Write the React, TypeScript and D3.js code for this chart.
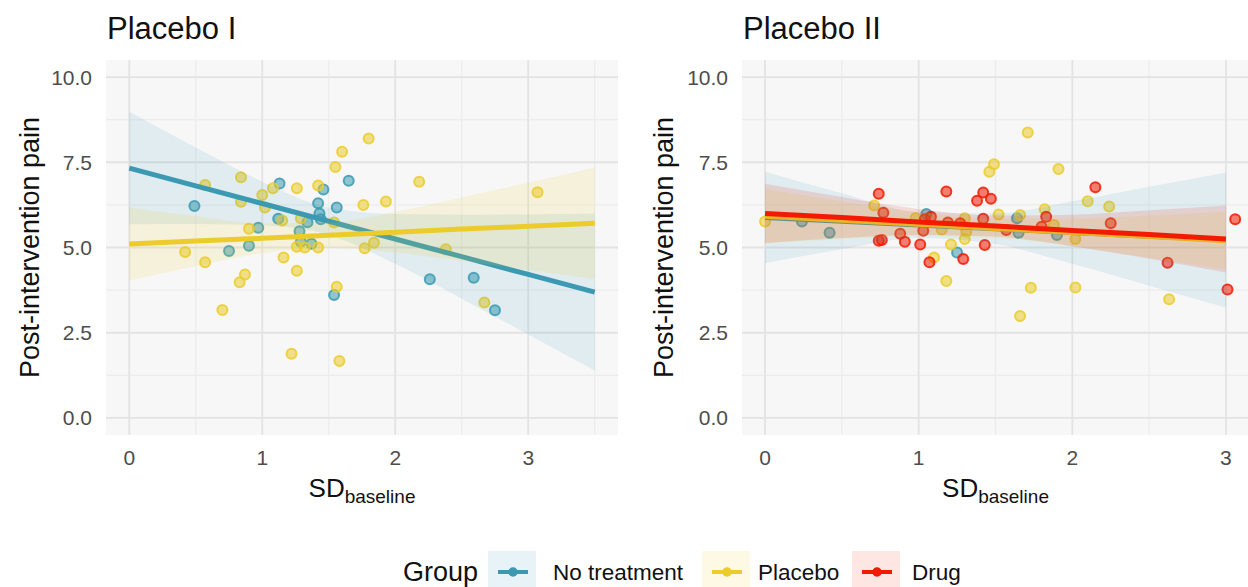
import React from "react";
import * as d3 from "d3";

// groups + palette (Zissou-like)
const groups = ["No treatment", "Placebo", "Drug"];
const groupColors = ["#3B9AB2", "#EBCC2A", "#F21A00"];
const bandOpacity = [0.12, 0.14, 0.13];
const keyOpacity = [0.12, 0.12, 0.11];

const xTicks = [0, 1, 2, 3];
const yTicks = [0, 2.5, 5, 7.5, 10];
const yTickLabels = ["0.0", "2.5", "5.0", "7.5", "10.0"];

// Placebo I - raw points [SD_baseline, post pain]
const p1NoTreatment: [number, number][] = [
  [0.49, 6.22], [0.75, 4.9], [0.9, 5.05], [0.97, 5.58], [1.13, 6.88],
  [1.12, 5.84], [1.28, 5.48], [1.29, 5.17], [1.34, 5.74], [1.37, 5.11],
  [1.42, 6.3], [1.43, 6.0], [1.44, 5.83], [1.46, 6.7], [1.56, 6.17],
  [1.65, 6.96], [1.54, 3.61], [2.26, 4.07], [2.59, 4.11], [2.75, 3.16],
];
const p1Placebo: [number, number][] = [
  [0.42, 4.87], [0.57, 4.57], [0.57, 6.83], [0.7, 3.17], [0.84, 7.06],
  [0.84, 6.34], [0.83, 3.98], [0.87, 4.21], [0.9, 5.55], [1.0, 6.54],
  [1.02, 6.17], [1.08, 6.74], [1.15, 5.79], [1.16, 4.71], [1.22, 1.88],
  [1.26, 6.74], [1.26, 4.32], [1.26, 5.02], [1.32, 5.0], [1.29, 5.86],
  [1.42, 6.82], [1.42, 5.0], [1.55, 7.36], [1.56, 3.85], [1.58, 1.67],
  [1.6, 7.81], [1.76, 6.25], [1.77, 4.98], [1.8, 8.2], [1.84, 5.14],
  [1.93, 6.35], [2.18, 6.93], [2.38, 4.95], [2.67, 3.39], [3.07, 6.62],
  [1.54, 5.73],
];

// Placebo II - raw points
const p2NoTreatment: [number, number][] = [
  [0.24, 5.76], [0.42, 5.43], [1.05, 5.98], [1.25, 4.85], [1.65, 5.43],
  [1.64, 5.86], [1.9, 5.37],
];
const p2Placebo: [number, number][] = [
  [0.0, 5.76], [0.71, 6.23], [1.1, 4.71], [1.18, 4.02], [1.21, 5.09],
  [1.3, 5.25], [1.31, 5.46], [1.3, 5.86], [1.15, 5.53], [1.46, 7.22],
  [1.49, 7.44], [1.52, 5.97], [1.66, 5.95], [1.71, 8.37], [1.73, 3.82],
  [1.66, 2.99], [1.82, 6.12], [1.91, 7.3], [2.02, 5.25], [2.02, 3.83],
  [2.1, 6.36], [2.24, 6.2], [2.63, 3.48], [1.88, 5.66], [0.98, 5.86],
];
const p2Drug: [number, number][] = [
  [0.74, 6.58], [0.77, 6.02], [0.74, 5.2], [0.76, 5.22], [0.88, 5.4],
  [0.91, 5.17], [1.01, 5.09], [1.07, 4.57], [1.03, 5.49], [1.04, 5.83],
  [1.08, 5.9], [1.18, 6.64], [1.19, 5.73], [1.29, 4.66], [1.27, 5.71],
  [1.38, 6.37], [1.42, 6.61], [1.47, 6.43], [1.42, 5.84], [1.43, 5.07],
  [1.57, 5.51], [1.83, 5.9], [1.8, 5.61], [2.15, 6.77], [2.25, 5.71],
  [2.62, 4.55], [3.01, 3.77], [3.06, 5.83],
];

// fitted lm lines with 95% bands
const p1FitX = [0, 0.5, 1, 1.5, 2, 2.5, 3, 3.5];
const p1NoTreatmentFit = [7.33, 6.81, 6.29, 5.77, 5.25, 4.73, 4.21, 3.69];
const p1NoTreatmentLo = [5.68, 5.69, 5.65, 5.37, 4.52, 3.5, 2.45, 1.39];
const p1NoTreatmentHi = [8.98, 7.93, 6.93, 6.17, 5.98, 5.96, 5.97, 5.99];
const p1PlaceboFit = [5.1, 5.19, 5.27, 5.36, 5.45, 5.54, 5.62, 5.71];
const p1PlaceboLo = [4.03, 4.46, 4.83, 4.99, 4.85, 4.61, 4.34, 4.07];
const p1PlaceboHi = [6.17, 5.92, 5.71, 5.73, 6.05, 6.47, 6.9, 7.35];

const p2FitX = [0, 0.5, 1, 1.5, 2, 2.5, 3];
const p2NoTreatmentFit = [5.88, 5.77, 5.66, 5.55, 5.44, 5.33, 5.22];
const p2NoTreatmentLo = [4.54, 4.95, 5.28, 5.1, 4.52, 3.88, 3.24];
const p2NoTreatmentHi = [7.22, 6.59, 6.04, 6.0, 6.36, 6.78, 7.2];
const p2PlaceboFit = [5.92, 5.8, 5.68, 5.56, 5.44, 5.32, 5.2];
const p2PlaceboLo = [5.12, 5.25, 5.33, 5.28, 5.04, 4.7, 4.35];
const p2PlaceboHi = [6.72, 6.35, 6.03, 5.84, 5.84, 5.94, 6.05];
const p2DrugFit = [6.0, 5.88, 5.75, 5.63, 5.5, 5.38, 5.25];
const p2DrugLo = [5.13, 5.28, 5.37, 5.32, 5.04, 4.67, 4.27];
const p2DrugHi = [6.87, 6.48, 6.13, 5.94, 5.96, 6.09, 6.23];

const W = 1248;
const H = 587;
const FONT = "'Liberation Sans', Arial, Helvetica, sans-serif";
const panelTop = 60;
const panelBottom = 435;

type Fit = { g: number; fit: number[]; lo: number[]; hi: number[] };

const Panel = ({ title, x0, x1, xDomain, minorX, points, fitX, fits, yTitleX, tickRight }) => {
  const x = d3.scaleLinear().domain(xDomain).range([x0, x1]);
  const y = d3.scaleLinear().domain([-0.5, 10.5]).range([panelBottom, panelTop]);
  const area = d3
    .area<number>()
    .x((_, i) => x(fitX[i]))
    .curve(d3.curveMonotoneX);
  const line = d3
    .line<number>()
    .x((_, i) => x(fitX[i]))
    .y((d) => y(d));
  const minorY = [1.25, 3.75, 6.25, 8.75];
  const cx = (x0 + x1) / 2;
  return (
    <g>
      <text x={x0 + 1} y={39} fontSize={31} fill="#111" fontFamily={FONT}>
        {title}
      </text>
      <rect x={x0} y={panelTop} width={x1 - x0} height={panelBottom - panelTop} fill="#f7f7f7" />
      {minorX.map((v) => (
        <line key={"mx" + v} x1={x(v)} x2={x(v)} y1={panelTop} y2={panelBottom} stroke="#ececec" strokeWidth={1.2} />
      ))}
      {minorY.map((v) => (
        <line key={"my" + v} x1={x0} x2={x1} y1={y(v)} y2={y(v)} stroke="#ececec" strokeWidth={1.2} />
      ))}
      {xTicks.map((v) => (
        <line key={"gx" + v} x1={x(v)} x2={x(v)} y1={panelTop} y2={panelBottom} stroke="#e3e3e3" strokeWidth={1.8} />
      ))}
      {yTicks.map((v) => (
        <line key={"gy" + v} x1={x0} x2={x1} y1={y(v)} y2={y(v)} stroke="#e3e3e3" strokeWidth={1.8} />
      ))}
      {points.map((pts, gi) =>
        pts.map((p, i) => (
          <circle
            key={gi + "-" + i}
            cx={x(p[0])}
            cy={y(p[1])}
            r={5}
            fill={groupColors[gi]}
            fillOpacity={0.55}
            stroke={groupColors[gi]}
            strokeOpacity={0.85}
            strokeWidth={2}
          />
        ))
      )}
      {fits.map((f: Fit) => (
        <g key={"f" + f.g}>
          <path
            d={area.y0((_, i) => y(f.lo[i])).y1((_, i) => y(f.hi[i]))(f.fit) || ""}
            fill={groupColors[f.g]}
            fillOpacity={bandOpacity[f.g]}
          />
          <path d={line(f.fit) || ""} fill="none" stroke={groupColors[f.g]} strokeWidth={5} />
        </g>
      ))}
      {xTicks.map((v) => (
        <text key={"tx" + v} x={x(v)} y={465} textAnchor="middle" fontSize={21} fill="#4d4d4d" fontFamily={FONT}>
          {v}
        </text>
      ))}
      {yTicks.map((v, i) => (
        <text key={"ty" + v} x={tickRight} y={y(v) + 7.5} textAnchor="end" fontSize={21} fill="#4d4d4d" fontFamily={FONT}>
          {yTickLabels[i]}
        </text>
      ))}
      <text x={cx} y={497} textAnchor="middle" fontSize={26} fill="#111" fontFamily={FONT}>
        SD
        <tspan fontSize={19} dy={6}>
          baseline
        </tspan>
      </text>
      <text
        transform={`translate(${yTitleX},${(panelTop + panelBottom) / 2}) rotate(-90)`}
        textAnchor="middle"
        fontSize={27}
        fill="#111"
        fontFamily={FONT}
      >
        Post-intervention pain
      </text>
    </g>
  );
};

const legendKeyX = [488, 702, 852];
const legendLabelX = [553, 758, 912];

export default function App() {
  return (
    <svg width={W} height={H} style={{ position: "absolute", left: 0, top: 0, background: "#fff" }}>
      <Panel
        title="Placebo I"
        x0={106}
        x1={618}
        xDomain={[-0.175, 3.675]}
        minorX={[0.5, 1.5, 2.5, 3.5]}
        points={[p1NoTreatment, p1Placebo]}
        fitX={p1FitX}
        fits={[
          { g: 0, fit: p1NoTreatmentFit, lo: p1NoTreatmentLo, hi: p1NoTreatmentHi },
          { g: 1, fit: p1PlaceboFit, lo: p1PlaceboLo, hi: p1PlaceboHi },
        ]}
        yTitleX={39}
        tickRight={92}
      />
      <Panel
        title="Placebo II"
        x0={742}
        x1={1249}
        xDomain={[-0.15, 3.15]}
        minorX={[0.5, 1.5, 2.5]}
        points={[p2NoTreatment, p2Placebo, p2Drug]}
        fitX={p2FitX}
        fits={[
          { g: 0, fit: p2NoTreatmentFit, lo: p2NoTreatmentLo, hi: p2NoTreatmentHi },
          { g: 1, fit: p2PlaceboFit, lo: p2PlaceboLo, hi: p2PlaceboHi },
          { g: 2, fit: p2DrugFit, lo: p2DrugLo, hi: p2DrugHi },
        ]}
        yTitleX={673}
        tickRight={728}
      />
      {/* legend */}
      <text x={403} y={581} fontSize={27} fill="#111" fontFamily={FONT}>
        Group
      </text>
      {groups.map((gname, i) => (
        <g key={gname}>
          <rect x={legendKeyX[i]} y={551} width={48} height={36} fill={groupColors[i]} fillOpacity={keyOpacity[i]} />
          <line x1={legendKeyX[i] + 10} x2={legendKeyX[i] + 40} y1={572} y2={572} stroke={groupColors[i]} strokeWidth={4} />
          <circle cx={legendKeyX[i] + 25} cy={572} r={4} fill={groupColors[i]} stroke={groupColors[i]} strokeWidth={1.5} />
          <text x={legendLabelX[i]} y={580} fontSize={22.5} fill="#111" fontFamily={FONT}>
            {gname}
          </text>
        </g>
      ))}
    </svg>
  );
}
